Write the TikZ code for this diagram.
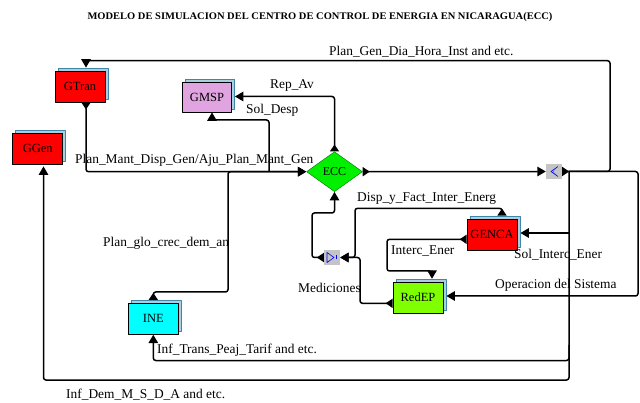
\documentclass[tikz,border=0pt]{standalone}
\usepackage{fontspec}
\setmainfont{Liberation Serif}
\usepackage{graphicx}
\usetikzlibrary{arrows.meta,shapes.geometric,shadows,calc}
\pgfdeclarelayer{bg}
\pgfsetlayers{bg,main}
\definecolor{shadowfill}{HTML}{A9CFE0}
\definecolor{shadowline}{HTML}{3F86A8}
\definecolor{cGMSP}{HTML}{E0A4E0}
\definecolor{cECC}{HTML}{00F000}
\definecolor{cRed}{HTML}{FF0000}
\definecolor{cINE}{HTML}{00FFFF}
\definecolor{cRedEP}{HTML}{80FF00}
\definecolor{cGray}{HTML}{C4C4C4}
\newcommand\lblfont{\fontsize{13.4}{15}\selectfont}
\newcommand\blkfont{\fontsize{12.5}{14}\selectfont}
\tikzset{
  blk/.style={rectangle, draw=black, line width=0.8pt, minimum width=50pt, minimum height=31pt,
    inner sep=0pt, font=\blkfont,
    copy shadow={shadow xshift=3pt, shadow yshift=3pt, fill=shadowfill, draw=shadowline, line width=0.8pt}},
  icon/.style={rectangle, fill=cGray, minimum width=16pt, minimum height=15pt, inner sep=0pt},
  lab/.style={font=\lblfont, inner sep=0pt, anchor=base west},
  wire/.style={line width=1.5pt, rounded corners=2.5pt},
  arr/.style={-{Triangle[length=8.5pt,width=9.5pt]}},
  oarr/.style={{Triangle[reversed,length=7pt,width=9pt]}-{Triangle[length=8.5pt,width=9.5pt]}},
}
\begin{document}
\begin{tikzpicture}[x=1pt, y=-1pt, line join=round]
\useasboundingbox (0,0) rectangle (640,403);
\begin{pgfonlayer}{bg}
\fill[white] (0,0) rectangle (640,403);
\end{pgfonlayer}

% title
\node[inner sep=0pt, anchor=base] (title) at (320,20) {\resizebox{465pt}{7pt}{\bfseries MODELO DE SIMULACION DEL CENTRO DE CONTROL DE ENERGIA EN NICARAGUA(ECC)}};

% blocks
\node[blk, fill=cRed] (GTran) at (80,86.5) {GTran};
\node[blk, fill=cRed] (GGen) at (37.7,148.5) {GGen};
\node[blk, fill=cGMSP, minimum width=49pt, minimum height=30pt] (GMSP) at (207,97) {GMSP};
\node[blk, fill=cINE] (INE) at (153.3,318.8) {INE};
\node[blk, fill=cRed] (GENCA) at (492,234.5) {GENCA};
\node[blk, fill=cRedEP] (RedEP) at (418,297.7) {RedEP};
\node[diamond, fill=cECC, draw=green!45!black, line width=0.4pt, minimum width=56pt, minimum height=40pt, inner sep=0pt, font=\fontsize{12}{14}\selectfont] (ECC) at (334.5,171.7) {ECC};
\node[icon] (dmx) at (554,171.5) {};
\node[icon] (mux) at (332,257.5) {};
\draw[blue, line width=0.6pt] ($(dmx.center)+(4,-5)$) -- ($(dmx.center)+(-3,0)$) -- ($(dmx.center)+(4,5)$);
\draw[blue, line width=0.6pt, densely dotted] ($(dmx.center)+(2,-3)$) -- ($(dmx.center)+(-1,0)$) -- ($(dmx.center)+(2,3)$);
\draw[blue, line width=0.6pt] ($(mux.center)+(-5,-5)$) -- ($(mux.center)+(2,0)$) -- ($(mux.center)+(-5,5)$) -- cycle;
\draw[blue, line width=0.6pt] ($(mux.center)+(4,-2)$) -- ($(mux.center)+(4,2)$);

% connectors
\begin{pgfonlayer}{bg}
\draw[wire, oarr] (dmx.east) -- (610,171.5) -- (610,60.7) -- (86,60.7) -- ($(GTran.north)+(6,-3)$);
\draw[wire, arr] (569,171.5) -- (638,171.5) -- (638,296) -- ($(RedEP.east)+(3,-1.7)$);
\draw[wire, arr] (569,171.5) -- (569,380) -- (43.5,380) -- ($(GGen.south)+(5.8,2)$);
\draw[wire, arr] (569,345) -- (569,360.5) -- (153.3,360.5) -- (INE.south);
\draw[wire, arr] (569,233) -- ($(GENCA.east)+(3,-1.5)$);
\draw[wire, oarr] (ECC.east) -- (dmx.west);
\draw[wire, oarr] ($(GTran.south)+(6,0)$) -- (86,171.7) -- (ECC.west);
\draw[wire, oarr] ($(INE.north)+(0,-3)$) -- (153.3,292) -- (228,292) -- (228,171.7) -- (ECC.west);
\draw[wire, arr] (269,171.7) -- (269,120) -- (212,120) -- ($(GMSP.south)+(5,0)$);
\draw[wire, oarr] (ECC.north) -- (334.5,96.5) -- ($(GMSP.east)+(3,-0.5)$);
\draw[wire, oarr] (mux.west) -- (312,257.5) -- (312,213) -- (334.5,213) -- (ECC.south);
\draw[wire, oarr] ($(GENCA.north)+(10,-3)$) -- (502,208.3) -- (355,208.3) -- (355,257.5) -- (mux.east);
\draw[wire, oarr] ($(RedEP.west)+(0,5.6)$) -- (360,303.3) -- (360,257.5) -- (mux.east);
\draw[wire, oarr] ($(GENCA.west)+(0,4.8)$) -- (387,239.3) -- (387,271) -- (432,271) -- ($(RedEP.north)+(14,-3)$);
\end{pgfonlayer}

% labels
\node[lab] (t1) at (329,56) {Plan\_Gen\_Dia\_Hora\_Inst and etc.};
\node[lab] (t2) at (270,89) {Rep\_Av};
\node[lab] (t3) at (246,114) {Sol\_Desp};
\node[lab] (t4) at (75,164) {Plan\_Mant\_Disp\_Gen/Aju\_Plan\_Mant\_Gen};
\node[lab] (t5) at (103,246.7) {Plan\_glo\_crec\_dem\_an};
\node[lab] (t6) at (357,202) {Disp\_y\_Fact\_Inter\_Energ};
\node[lab] (t7) at (391,255) {Interc\_Ener};
\node[lab] (t8) at (514,259) {Sol\_Interc\_Ener};
\node[lab] (t9) at (495,289) {Operacion del Sistema};
\node[lab] (t10) at (298,293) {Mediciones};
\node[lab] (t11) at (157,354) {Inf\_Trans\_Peaj\_Tarif and etc.};
\node[lab] (t12) at (66,398) {Inf\_Dem\_M\_S\_D\_A and etc.};
\end{tikzpicture}
\end{document}
